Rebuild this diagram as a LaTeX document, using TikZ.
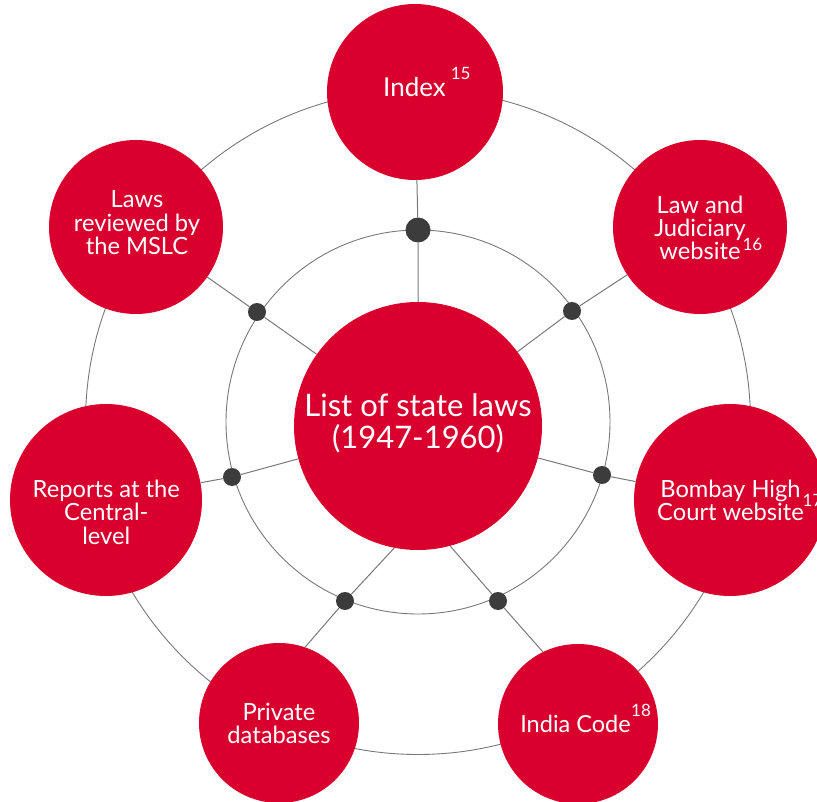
\documentclass[tikz,border=0pt]{standalone}
\usepackage{fontspec}
\setmainfont{Lato}
\definecolor{lawred}{RGB}{217,0,46}
\definecolor{dotgrey}{RGB}{60,60,60}
\definecolor{linegrey}{RGB}{120,120,120}
% superscript note placed after a word without shifting the centred line
\newcommand\supnote[3]{\rlap{\hspace{#1pt}\smash{\raisebox{#2pt}{\fontsize{17}{17}\selectfont #3}}}}
\begin{document}
\begin{tikzpicture}[x=1pt,y=-1pt,
  disc/.style={circle,fill=lawred,draw=none,inner sep=0pt,minimum size=#1},
  caption/.style={text=white,inner sep=0pt,align=center,font=\fontsize{23.7}{23.3}\selectfont},
  joint/.style={circle,fill=dotgrey,draw=none,inner sep=0pt,minimum size=#1},
  ring/.style={draw=linegrey,line width=0.9pt},
  spoke/.style={draw=linegrey,line width=1pt}]
\clip (0,0) rectangle (817,802);

% the two concentric rings
\draw[ring] (418,422) circle[radius=332.5pt];
\draw[ring] (418,422) circle[radius=192pt];

% central disc
\node[disc=248pt] (hub) at (418,426) {};
\node[caption,font=\fontsize{31}{32.3}\selectfont] (hubtext) at (418,423.5) {List of state laws\\(1947-1960)};

% surrounding discs
\node[disc=176pt] (index)   at (415,92)  {};
\node[disc=174pt] (lawjud)  at (700,227) {};
\node[disc=192pt] (bombay)  at (730,500) {};
\node[disc=160pt] (indcode) at (578,724) {};
\node[disc=160pt] (private) at (279,723) {};
\node[disc=192pt] (reports) at (106,500) {};
\node[disc=174pt] (mslc)    at (136,227) {};

% junction dots on the inner ring
\node[joint=25pt] (j1) at (418,230) {};
\node[joint=18pt] (j2) at (572,311) {};
\node[joint=18pt] (j3) at (602,475) {};
\node[joint=18pt] (j4) at (498,601) {};
\node[joint=18pt] (j5) at (345,601) {};
\node[joint=18pt] (j6) at (232,477) {};
\node[joint=18pt] (j7) at (257,312) {};

% spokes from the hub through each dot
\draw[spoke] (hub) -- (j1) -- (index);
\draw[spoke] (hub) -- (j2) -- (lawjud);
\draw[spoke] (hub) -- (j3) -- (bombay);
\draw[spoke] (hub.-75.6) -- (j4) -- (indcode.116.7);
\draw[spoke] (hub.-101.6) -- (j5) -- (private.71.1);
\draw[spoke] (hub) -- (j6) -- (reports);
\draw[spoke] (hub) -- (j7) -- (mslc);

% labels
\node[caption,font=\fontsize{26}{28}\selectfont] (indextext) at (414.5,86.7) {Index\supnote{5}{17}{15}};
\node[caption] (lawjudtext)  at (700,227.7) {Law and\\Judiciary\\website\supnote{2}{8.7}{16}};
\node[caption] (bombaytext)  at (730.5,500.3) {Bombay High\supnote{2}{-9.4}{17}\\Court website};
\node[caption,font=\fontsize{23.5}{24}\selectfont] (indcodetext) at (575.5,723.7) {India Code\supnote{0.5}{15.7}{18}};
\node[caption] (privatetext) at (279,723.7) {Private\\databases};
\node[caption] (reportstext) at (106.3,512.3) {Reports at the\\Central-\\level};
\node[caption] (mslctext)    at (137,222.8) {Laws\\reviewed by\\the MSLC};
\end{tikzpicture}
\end{document}
